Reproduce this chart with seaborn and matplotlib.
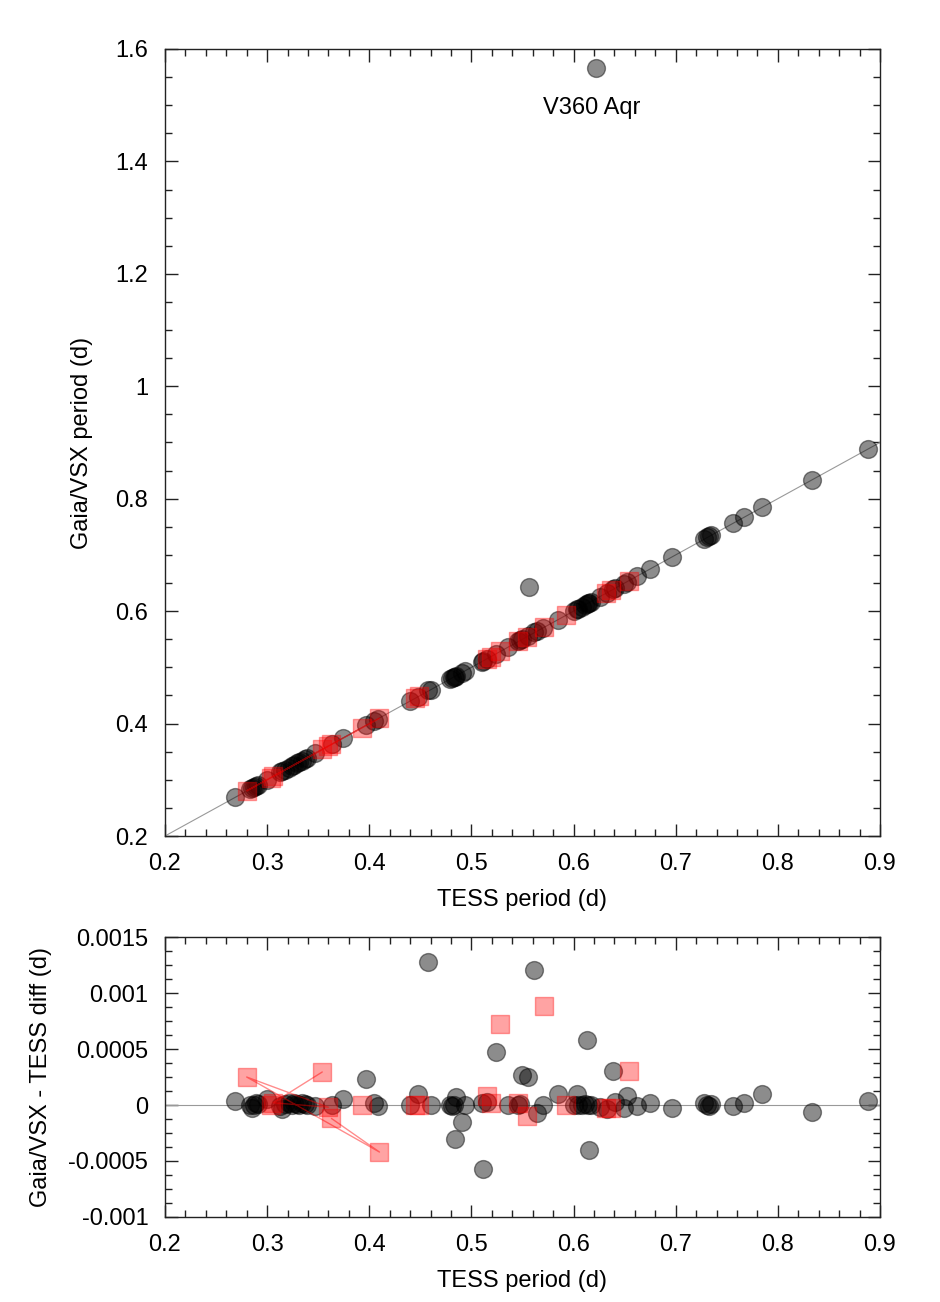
import matplotlib
matplotlib.use('Agg')
import matplotlib.pyplot as plt
import seaborn as sns
import pandas as pd
from matplotlib.ticker import MultipleLocator

# periodos TESS (d) e diferenca Gaia/VSX - TESS (d) - estrelas comuns (cinza)
tess_gray = [0.269, 0.283, 0.285, 0.287, 0.289, 0.291, 0.300, 0.313, 0.315, 0.318,
             0.321, 0.324, 0.326, 0.329, 0.331, 0.334, 0.337, 0.339, 0.347, 0.364,
             0.374, 0.397, 0.405, 0.409, 0.440, 0.448, 0.458, 0.460, 0.479, 0.481,
             0.483, 0.484, 0.485, 0.491, 0.494, 0.510, 0.511, 0.515, 0.524, 0.536,
             0.546, 0.548, 0.550, 0.555, 0.561, 0.564, 0.570, 0.585, 0.600, 0.603,
             0.604, 0.608, 0.611, 0.613, 0.614, 0.615, 0.617, 0.626, 0.633, 0.639,
             0.641, 0.649, 0.652, 0.662, 0.675, 0.696, 0.728, 0.731, 0.733, 0.735,
             0.756, 0.767, 0.785, 0.833, 0.888, 0.556, 0.622]
diff_gray = [0.00004, 0.0, -0.00003, 0.0, 0.00002, 0.00001, 0.00005, -0.00001, -0.00004, 0.00001,
             0.00002, 0.0, 0.00002, 0.00001, 0.0, 0.00002, 0.00001, 0.0, -0.00001, 0.0,
             0.00005, 0.00023, 0.00002, -0.00001, 0.0, 0.0001, 0.00128, 0.0, 0.0, -0.00001,
             0.0, -0.0003, 0.00007, -0.00015, 0.0, 0.00002, -0.00057, 0.00003, 0.00047, 0.0,
             0.0, 0.00001, 0.00027, 0.00025, 0.00121, -0.00007, 0.0, 0.0001, 0.0, 0.0001,
             0.0, 0.0, 0.00001, 0.00058, 0.0, -0.0004, 0.0, -0.00002, -0.00004, 0.0003,
             0.00003, -0.00003, 0.00008, -0.00001, 0.00002, -0.00003, 0.00002, 0.0, -0.00001, 0.00001,
             -0.00001, 0.00002, 0.0001, -0.00006, 0.00004, 0.087, 0.945]

# estrelas em vermelho - grupo ligado por linha
tess_red_line = [0.354, 0.306, 0.360, 0.280, 0.410, 0.363]
diff_red_line = [0.000295, 0.00002, -0.00002, 0.00025, -0.00042, -0.00012]
# restantes (so marcadores)
tess_red = [0.304, 0.393, 0.445, 0.449, 0.515, 0.519, 0.528, 0.546, 0.554, 0.571,
            0.593, 0.632, 0.637, 0.654]
diff_red = [0.0, 0.0, 0.0, 0.0, 0.00008, 0.00002, 0.00072, 0.00002, -0.0001, 0.00088,
            0.0, -0.00003, -0.00003, 0.0003]

top_yticks = [0.2, 0.4, 0.6, 0.8, 1.0, 1.2, 1.4, 1.6]
top_ylabels = ['0.2', '0.4', '0.6', '0.8', '1', '1.2', '1.4', '1.6']
bot_yticks = [-0.001, -0.0005, 0.0, 0.0005, 0.001, 0.0015]
bot_ylabels = ['-0.001', '-0.0005', '0', '0.0005', '0.001', '0.0015']
xticks = [0.2, 0.3, 0.4, 0.5, 0.6, 0.7, 0.8, 0.9]
xlabels = ['0.2', '0.3', '0.4', '0.5', '0.6', '0.7', '0.8', '0.9']

gray = pd.DataFrame({'tess': tess_gray, 'diff': diff_gray})
gray['gaia'] = gray['tess'] + gray['diff']
red_l = pd.DataFrame({'tess': tess_red_line, 'diff': diff_red_line})
red_l['gaia'] = red_l['tess'] + red_l['diff']
red = pd.DataFrame({'tess': tess_red, 'diff': diff_red})
red['gaia'] = red['tess'] + red['diff']

sns.set_style('ticks')
plt.rcParams['font.family'] = ['Liberation Sans', 'DejaVu Sans']
plt.rcParams['text.color'] = 'black'
plt.rcParams['axes.labelcolor'] = 'black'

fig = plt.figure(figsize=(9.4, 13.02), dpi=100)
ax1 = fig.add_axes([0.1755, 0.3579, 0.7606, 0.6045])
ax2 = fig.add_axes([0.1755, 0.0653, 0.7606, 0.2150])

circ = dict(color='black', alpha=0.45, s=165, edgecolor='black', linewidth=1, marker='o')
sq = dict(color='red', alpha=0.36, s=185, edgecolor='red', linewidth=1, marker='s')

#Painel de cima
ax1.axline((0.2, 0.2), slope=1, color='#999999', lw=0.8, zorder=1)
sns.scatterplot(data=gray, x='tess', y='gaia', ax=ax1, zorder=3, **circ)
sns.lineplot(data=red_l, x='tess', y='gaia', ax=ax1, sort=False, color='red', alpha=0.45, lw=1, zorder=4)
sns.scatterplot(data=red_l, x='tess', y='gaia', ax=ax1, zorder=4, **sq)
sns.scatterplot(data=red, x='tess', y='gaia', ax=ax1, zorder=4, **sq)
ax1.text(0.618, 1.495, 'V360 Aqr', fontsize=17, ha='center', va='center')
ax1.set_xlim(0.2, 0.9)
ax1.set_ylim(0.2, 1.6)
ax1.set_yticks(top_yticks)
ax1.set_yticklabels(top_ylabels)
ax1.yaxis.set_minor_locator(MultipleLocator(0.05))
ax1.set_ylabel('Gaia/VSX period (d)', fontsize=17, labelpad=16)

#Painel de baixo (diferenca)
ax2.axhline(0, color='#999999', lw=0.8, zorder=1)
sns.scatterplot(data=gray, x='tess', y='diff', ax=ax2, zorder=3, **circ)
sns.lineplot(data=red_l, x='tess', y='diff', ax=ax2, sort=False, color='red', alpha=0.45, lw=1, zorder=4)
sns.scatterplot(data=red_l, x='tess', y='diff', ax=ax2, zorder=4, **sq)
sns.scatterplot(data=red, x='tess', y='diff', ax=ax2, zorder=4, **sq)
ax2.set_xlim(0.2, 0.9)
ax2.set_ylim(-0.001, 0.0015)
ax2.set_yticks(bot_yticks)
ax2.set_yticklabels(bot_ylabels)
ax2.yaxis.set_minor_locator(MultipleLocator(0.000125))
ax2.set_ylabel('Gaia/VSX - TESS diff (d)', fontsize=17, labelpad=12)

for ax in (ax1, ax2):
    ax.set_xticks(xticks)
    ax.set_xticklabels(xlabels)
    ax.xaxis.set_minor_locator(MultipleLocator(0.02))
    ax.set_xlabel('TESS period (d)', fontsize=17, labelpad=10)
    ax.tick_params(which='both', direction='in', top=True, right=True, labelsize=17,
                   color='#222222', labelcolor='black', width=1)
    ax.tick_params(which='major', length=9, pad=12)
    ax.tick_params(which='minor', length=5)
    for s in ax.spines.values():
        s.set_visible(True)
        s.set_color('#222222')
        s.set_linewidth(1)

fig.savefig('out.png', dpi=100)
